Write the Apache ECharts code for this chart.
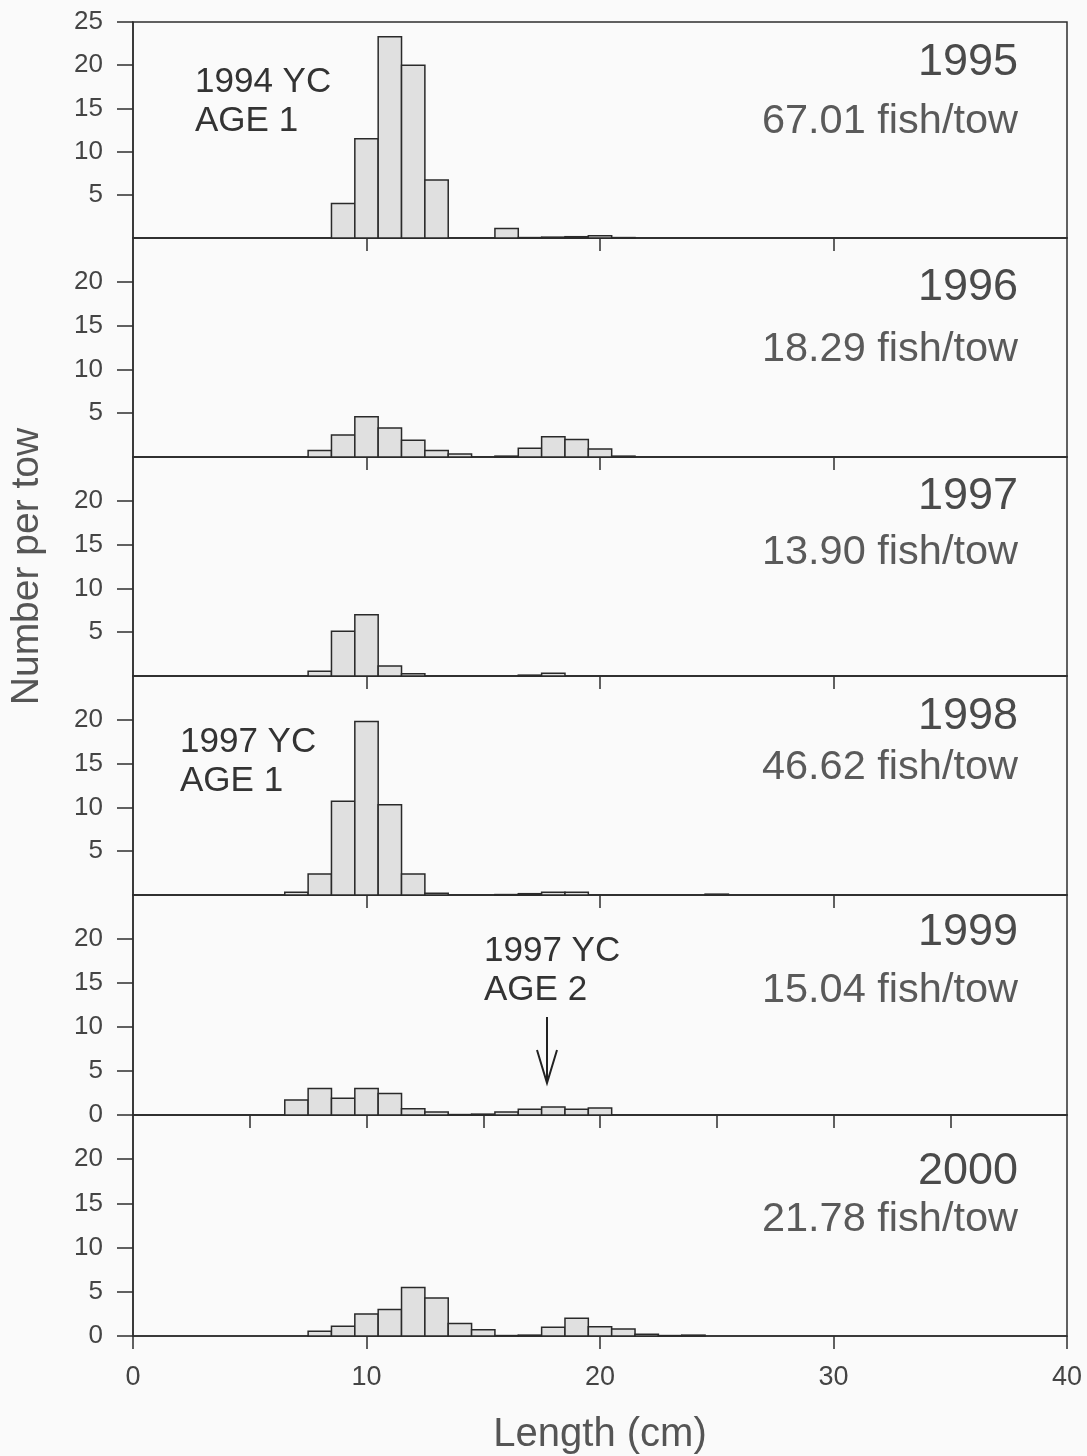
<!DOCTYPE html>
<html>
<head>
<meta charset="utf-8">
<script src="https://cdn.jsdelivr.net/npm/echarts@6/dist/echarts.min.js"></script>
<style>
html,body{margin:0;padding:0;background:#fafafa;}
#chart{width:1087px;height:1456px;}
</style>
</head>
<body>
<div id="chart"></div>
<script>
// ---- data ----
const lengthBins = [7, 8, 9, 10, 11, 12, 13, 14, 15, 16, 17, 18, 19, 20, 21, 22, 23, 24, 25];
const years = ['1995', '1996', '1997', '1998', '1999', '2000'];
const fishPerTow = ['67.01 fish/tow', '18.29 fish/tow', '13.90 fish/tow', '46.62 fish/tow', '15.04 fish/tow', '21.78 fish/tow'];
const counts1995 = [0, 0, 4.0, 11.5, 23.3, 20.0, 6.7, 0, 0, 1.1, 0.05, 0.1, 0.15, 0.25, 0.05, 0, 0, 0, 0];
const counts1996 = [0, 0.75, 2.5, 4.6, 3.3, 1.9, 0.75, 0.35, 0, 0.1, 1.0, 2.3, 2.0, 0.9, 0.1, 0, 0, 0, 0];
const counts1997 = [0, 0.55, 5.1, 7.0, 1.15, 0.25, 0, 0, 0, 0, 0.1, 0.3, 0, 0, 0, 0, 0, 0, 0];
const counts1998 = [0.3, 2.4, 10.7, 19.8, 10.3, 2.4, 0.2, 0, 0, 0.05, 0.15, 0.3, 0.3, 0, 0, 0, 0, 0, 0.1];
const counts1999 = [1.7, 3.0, 1.9, 3.0, 2.45, 0.7, 0.35, 0.05, 0.1, 0.35, 0.65, 0.9, 0.65, 0.8, 0, 0, 0, 0, 0];
const counts2000 = [0, 0.55, 1.1, 2.5, 3.0, 5.5, 4.3, 1.4, 0.7, 0.05, 0.1, 1.0, 2.0, 1.05, 0.8, 0.2, 0.05, 0.1, 0];
const allCounts = [counts1995, counts1996, counts1997, counts1998, counts1999, counts2000];
const xTickLabels = [0, 10, 20, 30, 40];
const xTicksMid = [10, 20, 30];
const xTicks1999 = [5, 10, 15, 20, 25, 30, 35];
const yTicksTop = [5, 10, 15, 20, 25];
const yTicksMid = [5, 10, 15, 20];
const yTicksLow = [0, 5, 10, 15, 20];
const annotations = [
  {panel: 0, lines: ['1994 YC', 'AGE 1']},
  {panel: 3, lines: ['1997 YC', 'AGE 1']},
  {panel: 4, lines: ['1997 YC', 'AGE 2']}
];

// ---- layout ----
const bounds = [22, 238, 457, 676, 895, 1115, 1336];
const LEFT = 133, RIGHT_EDGE = 1067;
const FONT = '"Liberation Sans", Arial, sans-serif';
const INK = '#2e2e2e';

const chart = echarts.init(document.getElementById('chart'));

const grids = [], xAxes = [], yAxes = [], series = [];
years.forEach((yr, i) => {
  grids.push({
    left: LEFT, width: RIGHT_EDGE - LEFT,
    top: bounds[i], height: bounds[i + 1] - bounds[i],
    outerBoundsMode: 'none', containLabel: false,
    show: true, borderColor: INK, borderWidth: 1.5, backgroundColor: 'transparent'
  });
  const isLast = i === years.length - 1;
  const xt = isLast ? xTickLabels : (i === 4 ? xTicks1999 : xTicksMid);
  xAxes.push({
    type: 'value', gridIndex: i, min: 0, max: 40, interval: 5,
    axisLine: {show: true, lineStyle: {color: INK, width: 1.5}},
    axisTick: {show: true, customValues: xt, length: 13, lineStyle: {color: INK, width: 1.5}},
    axisLabel: {show: isLast, customValues: xTickLabels, fontSize: 27, color: '#444', fontFamily: FONT, margin: 28},
    splitLine: {show: false},
    name: isLast ? 'Length (cm)' : '',
    nameLocation: 'middle', nameGap: 79, nameMoveOverlap: false,
    nameTextStyle: {fontSize: 40, color: '#555', fontFamily: FONT}
  });
  const yt = i === 0 ? yTicksTop : (i >= 4 ? yTicksLow : yTicksMid);
  yAxes.push({
    type: 'value', gridIndex: i, min: 0, max: 25, interval: 5,
    axisLine: {show: true, lineStyle: {color: INK, width: 1.5}},
    axisTick: {show: true, customValues: yt, length: 16, lineStyle: {color: INK, width: 1.5}},
    axisLabel: {customValues: yt, fontSize: 26, color: '#444', fontFamily: FONT, margin: 30},
    splitLine: {show: false},
    name: i === 2 ? 'Number per tow' : '',
    nameLocation: 'middle', nameGap: 86, nameMoveOverlap: false,
    nameTextStyle: {fontSize: 39, color: '#555', fontFamily: FONT}
  });
  const data = lengthBins.map((l, k) => [l, allCounts[i][k]]).filter(d => d[1] > 0);
  series.push({
    type: 'custom', xAxisIndex: i, yAxisIndex: i, data: data,
    renderItem: function (params, api) {
      const x = api.value(0), y = api.value(1);
      const p0 = api.coord([x - 0.5, y]);
      const p1 = api.coord([x + 0.5, 0]);
      return {
        type: 'rect',
        shape: {x: p0[0], y: p0[1], width: p1[0] - p0[0], height: p1[1] - p0[1]},
        style: {fill: '#e0e0e0', stroke: '#2a2a2a', lineWidth: 1.5}
      };
    }
  });
});

// panel labels
const yearY = [63, 288, 497, 717, 933, 1172];
const fishY = [122, 350, 553, 768, 991, 1220];
const graphics = [];
years.forEach((yr, i) => {
  graphics.push({type: 'text', x: 1018, y: yearY[i],
    style: {text: yr, fill: '#4a4a4a', font: '45px ' + FONT, align: 'right', verticalAlign: 'middle'}});
  graphics.push({type: 'text', x: 1018, y: fishY[i],
    style: {text: fishPerTow[i], fill: '#5a5a5a', font: '41.5px ' + FONT, align: 'right', verticalAlign: 'middle'}});
});
const annPos = [[195, 82], [180, 742], [484, 951]];
annotations.forEach((a, j) => {
  a.lines.forEach((t, k) => {
    graphics.push({type: 'text', x: annPos[j][0], y: annPos[j][1] + k * 39,
      style: {text: t, fill: '#333', font: '35px ' + FONT, align: 'left', verticalAlign: 'middle'}});
  });
});
// arrow
graphics.push({type: 'line', shape: {x1: 547, y1: 1017, x2: 547, y2: 1082}, style: {stroke: '#222', lineWidth: 2}});
graphics.push({type: 'polyline', shape: {points: [[537, 1050], [547, 1083], [557, 1050]]}, style: {stroke: '#222', lineWidth: 2, fill: null}});

chart.setOption({
  backgroundColor: '#fafafa',
  animation: false,
  grid: grids,
  xAxis: xAxes,
  yAxis: yAxes,
  series: series,
  graphic: graphics
});
</script>
</body>
</html>
